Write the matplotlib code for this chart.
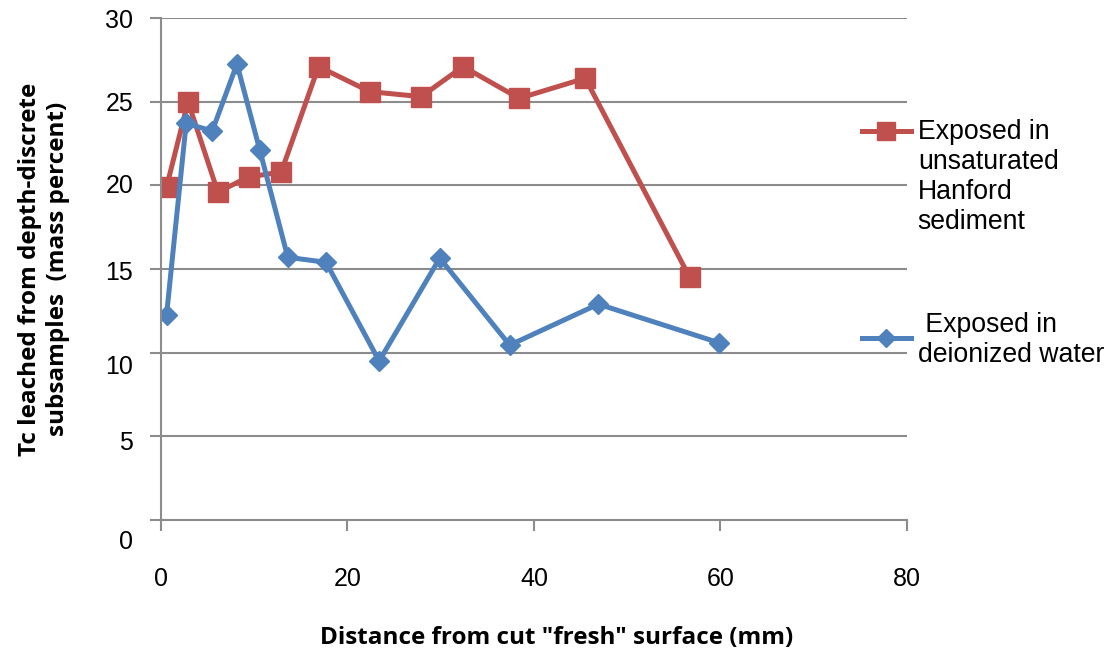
import numpy as np
import matplotlib.pyplot as plt
from matplotlib import transforms

# ============================================================
# Data
# ============================================================
sed_x = [0.6, 2.9, 6.1, 9.4, 12.9, 16.9, 22.4, 27.9, 32.4, 38.4, 45.5, 56.7]
sed_y = [19.9, 25.0, 19.6, 20.5, 20.8, 27.1, 25.6, 25.3, 27.1, 25.2, 26.4, 14.5]

water_x = [0.6, 2.7, 5.5, 8.15, 10.6, 13.6, 17.7, 23.4, 29.9, 37.4, 46.9, 59.8]
water_y = [12.25, 23.7, 23.25, 27.25, 22.1, 15.7, 15.4, 9.5, 15.65, 10.45, 12.9, 10.6]

y_ticks = [0, 5, 10, 15, 20, 25, 30]
x_ticks = [0, 20, 40, 60, 80]

# ============================================================
# Style
# ============================================================
RED = "#C0504D"
BLUE = "#4F81BD"
GRID = "#8C8C8C"

plt.rcParams["font.family"] = ["Liberation Sans", "DejaVu Sans"]

fig = plt.figure(figsize=(11.07, 6.53), dpi=100)
ax = fig.add_axes([0.1454, 0.2037, 0.8193 - 0.1454, 0.9724 - 0.2037])

ax.plot(sed_x, sed_y, "-s", color=RED, lw=3.6, ms=14.5,
        label="Exposed in\nunsaturated\nHanford\nsediment")
ax.plot(water_x, water_y, "-D", color=BLUE, lw=3.6, ms=10.5,
        label=" Exposed in\ndeionized water")

ax.set_xlim(0, 80)
ax.set_ylim(0, 30)
ax.set_xticks(x_ticks)
ax.set_yticks(y_ticks)
ax.grid(axis="y", color=GRID, lw=1.5)
ax.set_axisbelow(True)

for s in ["top", "right"]:
    ax.spines[s].set_visible(False)
for s in ["left", "bottom"]:
    ax.spines[s].set_color(GRID)
    ax.spines[s].set_linewidth(1.5)

ax.tick_params(axis="both", colors=GRID, width=1.5, length=8,
               labelcolor="black", labelsize=18)
ax.tick_params(axis="x", pad=26)
ax.tick_params(axis="y", pad=12)

# the reference's y labels sit a little off their gridlines
offsets = {0: -20, 5: -4, 10: -12, 15: -1, 20: 2, 25: 0, 30: 0}
for val, lab in zip(y_ticks, ax.get_yticklabels()):
    lab.set_transform(lab.get_transform() +
                      transforms.ScaledTranslation(0, offsets[val] / 100, fig.dpi_scale_trans))

ax.set_xlabel('Distance from cut "fresh" surface (mm)', family="Open Sans",
              fontweight="bold", fontsize=17.5, labelpad=25)
ax.xaxis.label.set_x(0.53)
ax.set_ylabel("Tc leached from depth-discrete\nsubsamples  (mass percent)",
              family="Open Sans", fontweight="bold", fontsize=17.5, labelpad=25,
              linespacing=1.25)

# legend at right, entries spaced apart
h, l = ax.get_legend_handles_labels()
leg = fig.legend(h, l, loc="upper left", bbox_to_anchor=(0.7785, 0.818),
                 frameon=False, fontsize=19.2, handlelength=1.85,
                 handleheight=1.3, labelspacing=2.9, handletextpad=0.25,
                 borderpad=0, borderaxespad=0, markerscale=0.85)
for t in leg.get_texts():
    t.set_linespacing(1.2)
# red entry: marker next to the first text line, as in the reference
for col in leg._legend_handle_box.get_children():
    col.get_children()[0].align = "top"

fig.savefig("out.png", dpi=100)
